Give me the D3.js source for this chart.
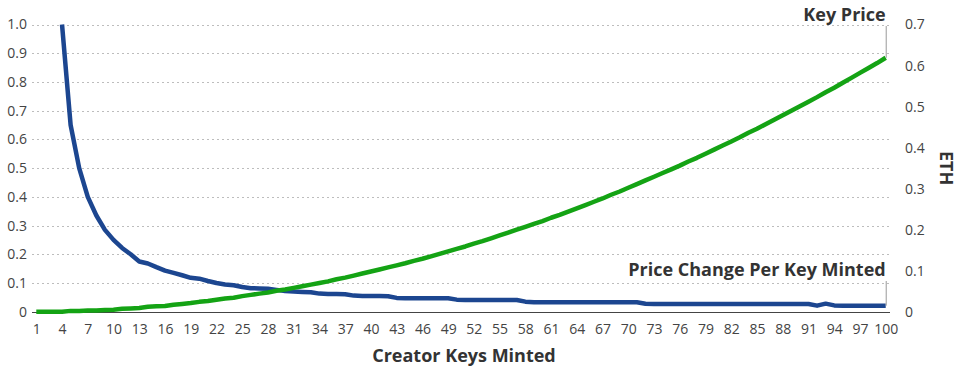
<!DOCTYPE html>
<html>
<head>
<meta charset="utf-8">
<script src="https://cdn.jsdelivr.net/npm/d3@7"></script>
<style>
  html, body { margin: 0; padding: 0; background: #fff; }
  svg { display: block; font-family: "Open Sans", sans-serif; }
</style>
</head>
<body>
<svg id="chart" width="960" height="368"></svg>
<script>
// Keys minted (x categories)
const keys = d3.range(1, 101);

// Price change per key minted (left axis), starts at key 4
const priceChange = [
  null, null, null,
  1.0, 0.65, 0.5, 0.4, 0.335, 0.285, 0.25, 0.222, 0.2, 0.175,
  0.168, 0.155, 0.143, 0.135, 0.127, 0.118, 0.115, 0.107, 0.1, 0.095,
  0.092, 0.086, 0.082, 0.081, 0.08, 0.076, 0.072, 0.07, 0.069, 0.068,
  0.063, 0.062, 0.062, 0.061, 0.056, 0.055, 0.055, 0.055, 0.054, 0.048,
  0.047, 0.047, 0.047, 0.047, 0.047, 0.047, 0.042, 0.041, 0.041, 0.041,
  0.041, 0.041, 0.041, 0.041, 0.035, 0.033, 0.033, 0.033, 0.033, 0.033,
  0.033, 0.033, 0.033, 0.033, 0.033, 0.033, 0.033, 0.033, 0.028, 0.027,
  0.027, 0.027, 0.027, 0.027, 0.027, 0.027, 0.027, 0.027, 0.027, 0.027,
  0.027, 0.027, 0.027, 0.027, 0.027, 0.027, 0.027, 0.027, 0.021, 0.028,
  0.022, 0.021, 0.021, 0.021, 0.021, 0.021, 0.021
];

// Key price in ETH (right axis)
const keyPrice = [
  0, 0, 0, 0, 0.002, 0.002, 0.003, 0.003, 0.004, 0.005,
  0.007, 0.008, 0.009, 0.012, 0.013, 0.014, 0.017, 0.019, 0.021, 0.024,
  0.026, 0.029, 0.032, 0.034, 0.038, 0.041, 0.044, 0.047, 0.051, 0.054,
  0.058, 0.062, 0.066, 0.07, 0.074, 0.079, 0.083, 0.088, 0.093, 0.098,
  0.103, 0.108, 0.113, 0.118, 0.124, 0.129, 0.135, 0.141, 0.147, 0.153,
  0.159, 0.166, 0.172, 0.179, 0.186, 0.193, 0.2, 0.207, 0.214, 0.221,
  0.229, 0.236, 0.244, 0.252, 0.26, 0.268, 0.276, 0.285, 0.293, 0.302,
  0.311, 0.32, 0.329, 0.338, 0.347, 0.356, 0.366, 0.375, 0.385, 0.395,
  0.405, 0.415, 0.425, 0.436, 0.446, 0.457, 0.468, 0.479, 0.49, 0.501,
  0.512, 0.523, 0.535, 0.546, 0.558, 0.57, 0.582, 0.594, 0.606, 0.619
];

const leftTicks = [0, 0.1, 0.2, 0.3, 0.4, 0.5, 0.6, 0.7, 0.8, 0.9, 1.0];
const rightTicks = [0, 0.1, 0.2, 0.3, 0.4, 0.5, 0.6, 0.7];
const xTickLabels = keys.filter(k => (k - 1) % 3 === 0);

const svg = d3.select("#chart");
const plot = { left: 32, right: 890, top: 24.5, bottom: 311.7 };

const x = d3.scalePoint().domain(keys).range([plot.left, plot.right]).padding(0.5);
const yL = d3.scaleLinear().domain([0, 1]).range([plot.bottom, plot.top]);
const yR = d3.scaleLinear().domain([0, 0.7]).range([plot.bottom, plot.top]);

// Grid lines (left axis)
svg.append("g").selectAll("line")
  .data(leftTicks.filter(d => d > 0))
  .join("line")
  .attr("x1", plot.left).attr("x2", plot.right + 1)
  .attr("y1", d => Math.round(yL(d)) + 0.5).attr("y2", d => Math.round(yL(d)) + 0.5)
  .attr("stroke", "#bdbdbd").attr("stroke-width", 1)
  .attr("stroke-dasharray", "2,3");

// Left axis
const leftAxis = d3.axisLeft(yL).tickValues(leftTicks)
  .tickFormat(d => d === 0 ? "0" : d3.format(".1f")(d)).tickSize(0).tickPadding(5);
const gL = svg.append("g").attr("transform", `translate(${plot.left},0)`).call(leftAxis);
gL.select(".domain").remove();
gL.selectAll("text").attr("font-size", 14).attr("fill", "#444").attr("font-family", "Open Sans");

// Right axis
const rightAxis = d3.axisRight(yR).tickValues(rightTicks)
  .tickFormat(d => d === 0 ? "0" : d3.format(".1f")(d)).tickSize(0).tickPadding(15);
const gR = svg.append("g").attr("transform", `translate(${plot.right},0)`).call(rightAxis);
gR.select(".domain").remove();
gR.selectAll("text").attr("font-size", 14).attr("fill", "#444").attr("font-family", "Open Sans");

// Bottom axis
const bottomAxis = d3.axisBottom(x).tickValues(xTickLabels).tickSize(0).tickPadding(12);
const gB = svg.append("g").attr("transform", `translate(0,${plot.bottom})`).call(bottomAxis);
gB.select(".domain").remove();
gB.selectAll("text").attr("font-size", 14).attr("fill", "#444").attr("font-family", "Open Sans");
svg.append("line")
  .attr("x1", plot.left).attr("x2", plot.right)
  .attr("y1", Math.round(plot.bottom) + 0.5).attr("y2", Math.round(plot.bottom) + 0.5)
  .attr("stroke", "#444").attr("stroke-width", 1);

// Lines
const blueLine = d3.line()
  .defined(d => d.v !== null)
  .x(d => x(d.k)).y(d => yL(d.v));
const greenLine = d3.line()
  .x(d => x(d.k)).y(d => yR(d.v));

svg.append("path")
  .datum(keys.map((k, i) => ({ k, v: priceChange[i] })))
  .attr("d", blueLine)
  .attr("fill", "none").attr("stroke", "#1c4690").attr("stroke-width", 4.5)
  .attr("stroke-linejoin", "round");

svg.append("path")
  .datum(keys.map((k, i) => ({ k, v: keyPrice[i] })))
  .attr("d", greenLine)
  .attr("fill", "none").attr("stroke", "#14a314").attr("stroke-width", 4.5)
  .attr("stroke-linejoin", "round");

// Series labels with leader lines
const lastX = x(100);
svg.append("line")
  .attr("x1", lastX + 0.5).attr("x2", lastX + 0.5)
  .attr("y1", 26).attr("y2", yR(keyPrice[99]))
  .attr("stroke", "#999").attr("stroke-width", 1);
svg.append("text")
  .attr("x", lastX).attr("y", 21)
  .attr("text-anchor", "end")
  .attr("font-size", 18).attr("font-weight", "bold").attr("fill", "#333")
  .text("Key Price");

svg.append("line")
  .attr("x1", lastX + 0.5).attr("x2", lastX + 0.5)
  .attr("y1", 281).attr("y2", yL(priceChange[99]))
  .attr("stroke", "#999").attr("stroke-width", 1);
svg.append("text")
  .attr("x", lastX).attr("y", 276)
  .attr("text-anchor", "end")
  .attr("font-size", 18).attr("font-weight", "bold").attr("fill", "#333")
  .text("Price Change Per Key Minted");

// Axis titles
svg.append("text")
  .attr("x", (plot.left + plot.right) / 2 + 3).attr("y", 362)
  .attr("text-anchor", "middle")
  .attr("font-size", 18).attr("font-weight", "bold").attr("fill", "#333")
  .text("Creator Keys Minted");

svg.append("text")
  .attr("transform", `translate(940,${(plot.top + plot.bottom) / 2}) rotate(90)`)
  .attr("text-anchor", "middle")
  .attr("font-size", 18).attr("font-weight", "bold").attr("fill", "#333")
  .text("ETH");
</script>
</body>
</html>
